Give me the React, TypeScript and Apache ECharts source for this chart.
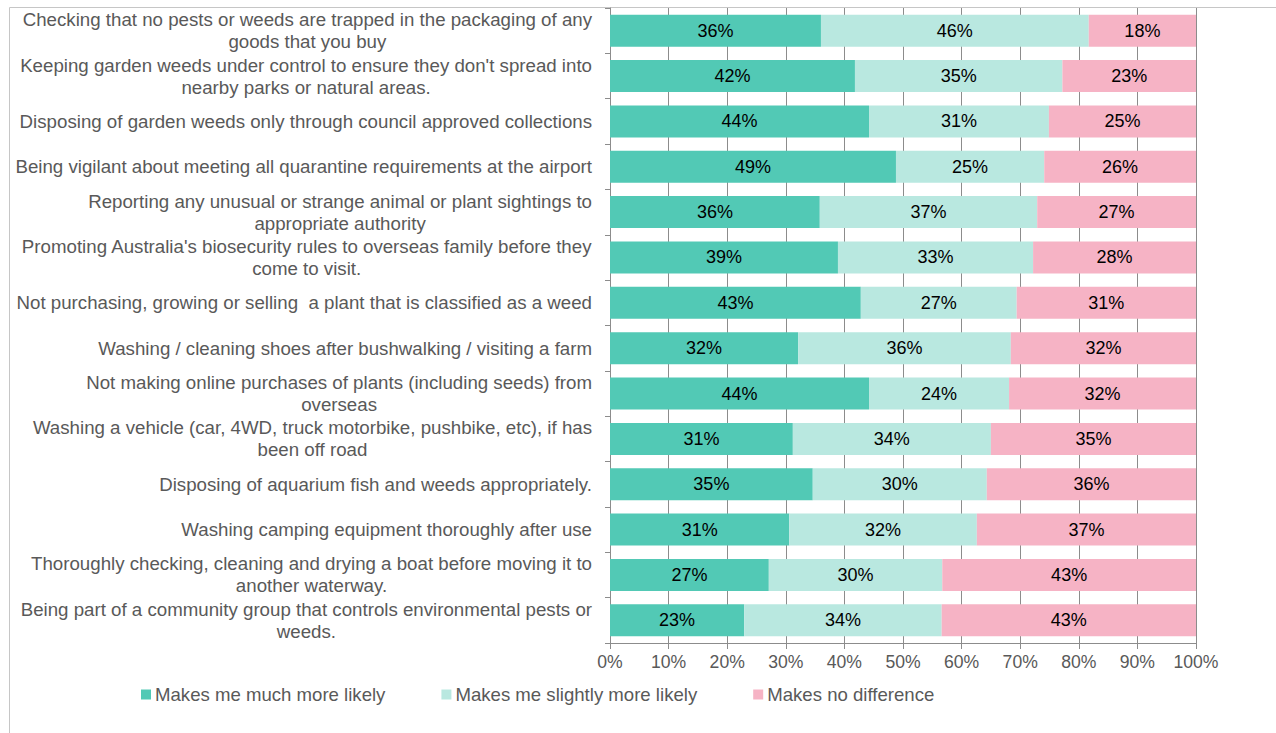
import React, { useEffect, useRef } from "react";
import * as echarts from "echarts";

const categories: string[] = [
  "Checking that no pests or weeds are trapped in the packaging of any\ngoods that you buy",
  "Keeping garden weeds under control to ensure they don't spread into\nnearby parks or natural areas.",
  "Disposing of garden weeds only through council approved collections",
  "Being vigilant about meeting all quarantine requirements at the airport",
  "Reporting any unusual or strange animal or plant sightings to\nappropriate authority",
  "Promoting Australia's biosecurity rules to overseas family before they\ncome to visit.",
  "Not purchasing, growing or selling  a plant that is classified as a weed",
  "Washing / cleaning shoes after bushwalking / visiting a farm",
  "Not making online purchases of plants (including seeds) from\noverseas",
  "Washing a vehicle (car, 4WD, truck motorbike, pushbike, etc), if has\nbeen off road",
  "Disposing of aquarium fish and weeds appropriately.",
  "Washing camping equipment thoroughly after use",
  "Thoroughly checking, cleaning and drying a boat before moving it to\nanother waterway.",
  "Being part of a community group that controls environmental pests or\nweeds.",
];

const seriesNames: string[] = [
  "Makes me much more likely",
  "Makes me slightly more likely",
  "Makes no difference",
];

const muchMoreLikely: number[] = [36.0, 41.8, 44.2, 48.8, 35.8, 38.9, 42.8, 32.1, 44.2, 31.2, 34.6, 30.6, 27.1, 22.9];
const slightlyMoreLikely: number[] = [45.7, 35.4, 30.7, 25.3, 37.1, 33.3, 26.6, 36.3, 23.9, 33.8, 29.7, 32.0, 29.6, 33.7];
const noDifference: number[] = [18.3, 22.8, 25.1, 25.9, 27.1, 27.8, 30.6, 31.6, 31.9, 35.0, 35.7, 37.4, 43.3, 43.4];

const xTicks = { min: 0, max: 100, interval: 10 };

const colors = ["#52C9B5", "#B9E8E0", "#F6B3C5"];
const FONT = "'Liberation Sans', Arial, Helvetica, sans-serif";
const GRAY = "#595959";
const LINE = "#8C8C8C";

export default function App() {
  const ref = useRef<HTMLDivElement>(null);

  useEffect(() => {
    if (!ref.current) return;
    const chart = echarts.init(ref.current, undefined, { renderer: "svg" });
    const dataSets = [muchMoreLikely, slightlyMoreLikely, noDifference];
    chart.setOption({
      animation: false,
      textStyle: { fontFamily: FONT },
      graphic: [
        {
          type: "rect",
          shape: { x: 9.5, y: 7.5, width: 1400, height: 900 },
          style: { fill: "none", stroke: "#C6C6C6", lineWidth: 1 },
          silent: true,
          z: -10,
        },
      ],
      grid: { left: 610, right: 80, top: 8, bottom: 90, containLabel: false },
      legend: {
        left: 136,
        top: 680,
        icon: "rect",
        itemWidth: 10,
        itemHeight: 10,
        itemGap: 56,
        textStyle: { fontSize: 18.6, color: GRAY, fontFamily: FONT, padding: [0, 0, 0, -1] },
        data: seriesNames,
      },
      xAxis: {
        type: "value",
        min: xTicks.min,
        max: xTicks.max,
        interval: xTicks.interval,
        axisLine: { show: true, lineStyle: { color: LINE, width: 1 } },
        axisTick: { show: true, length: 6, lineStyle: { color: LINE } },
        splitLine: { show: true, lineStyle: { color: LINE, width: 1 } },
        axisLabel: {
          formatter: "{value}%",
          fontSize: 17.6,
          color: GRAY,
          margin: 10,
          fontFamily: FONT,
        },
      },
      yAxis: {
        type: "category",
        inverse: true,
        data: categories,
        axisLine: { show: true, lineStyle: { color: LINE, width: 1 } },
        axisTick: { show: true, length: 5, lineStyle: { color: LINE } },
        axisLabel: {
          margin: 18,
          fontSize: 18.7,
          color: GRAY,
          fontFamily: FONT,
          formatter: (v: string) =>
            v
              .split("\n")
              .map((l) => `{c|${l}}`)
              .join("\n"),
          rich: {
            c: {
              align: "center",
              fontSize: 18.7,
              color: GRAY,
              lineHeight: 22,
              fontFamily: FONT,
            },
          },
        },
      },
      series: seriesNames.map((name, i) => ({
        name,
        type: "bar",
        stack: "total",
        barWidth: 32,
        itemStyle: { color: colors[i] },
        label: {
          show: true,
          position: "inside",
          color: "#000000",
          fontSize: 18,
          fontFamily: FONT,
          formatter: (p: any) => `${Math.round(p.value)}%`,
        },
        data: dataSets[i],
      })),
    });
    return () => chart.dispose();
  }, []);

  return (
    <div
      ref={ref}
      style={{ position: "fixed", left: 0, top: 0, width: 1276, height: 733, background: "#fff" }}
    />
  );
}
